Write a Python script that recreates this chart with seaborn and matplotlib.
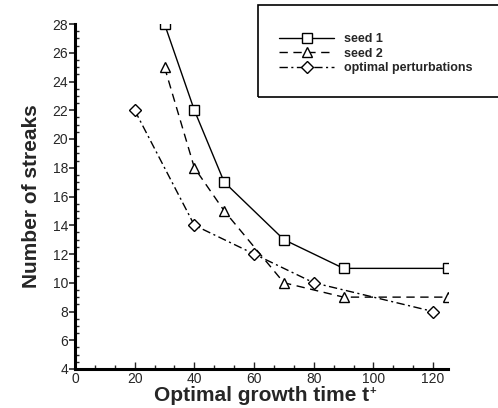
import pandas as pd
import matplotlib.pyplot as plt
import seaborn as sns
from matplotlib.patches import Rectangle
from matplotlib.ticker import MultipleLocator

# data
seed1_t = [30, 40, 50, 70, 90, 125]
seed1_n = [28, 22, 17, 13, 11, 11]
seed2_t = [30, 40, 50, 70, 90, 125]
seed2_n = [25, 18, 15, 10, 9, 9]
opt_t = [20, 40, 60, 80, 120]
opt_n = [22, 14, 12, 10, 8]

sns.set_theme(style='white')
plt.rcParams['font.family'] = ['Liberation Sans', 'DejaVu Sans']

df = pd.concat([
    pd.DataFrame({'t': seed1_t, 'n': seed1_n, 'case': 'seed 1'}),
    pd.DataFrame({'t': seed2_t, 'n': seed2_n, 'case': 'seed 2'}),
    pd.DataFrame({'t': opt_t, 'n': opt_n, 'case': 'optimal perturbations'}),
])

W, H = 498, 408
fig = plt.figure(figsize=(W / 100, H / 100), dpi=100)
ax = fig.add_axes([75 / W, 39 / H, 373 / W, 345 / H])

styles = {
    'seed 1': dict(linestyle='-', marker='s', markersize=7.5),
    'seed 2': dict(linestyle=(0, (6, 4)), marker='^', markersize=7.5),
    'optimal perturbations': dict(linestyle=(0, (6, 2.5, 1.5, 2.5)), marker='D', markersize=6.5),
}
for case, st in styles.items():
    sub = df[df['case'] == case]
    sns.lineplot(data=sub, x='t', y='n', ax=ax, color='black', linewidth=1,
                 markerfacecolor='white', markeredgecolor='black',
                 markeredgewidth=1, label=case, **st)

ax.set_xlim(0, 125)
ax.set_ylim(4, 28)
ax.xaxis.set_major_locator(MultipleLocator(20))
ax.xaxis.set_minor_locator(MultipleLocator(20 / 3))
ax.yaxis.set_major_locator(MultipleLocator(2))
ax.yaxis.set_minor_locator(MultipleLocator(0.5))

for side in ['top', 'right']:
    ax.spines[side].set_visible(False)
for side in ['left', 'bottom']:
    ax.spines[side].set_linewidth(2.2)
    ax.spines[side].set_color('black')

ax.tick_params(axis='x', which='major', direction='in', length=5, width=1,
               labelsize=10, pad=2, bottom=True)
ax.tick_params(axis='x', which='minor', direction='in', length=3, width=1, bottom=True)
ax.tick_params(axis='y', which='major', direction='out', length=4, width=1.2,
               labelsize=10, pad=1, left=True)
ax.tick_params(axis='y', which='minor', direction='in', length=3, width=1, left=True)

ax.set_xlabel('Optimal growth time t', fontsize=15, fontweight='bold', labelpad=0)
ax.annotate('+', xy=(1, 1), xycoords=ax.xaxis.label, xytext=(0.5, -0.5),
            textcoords='offset points', fontsize=8, fontweight='bold',
            ha='left', va='top')
ax.set_ylabel('Number of streaks', fontsize=15, fontweight='bold', labelpad=8)

# legend box drawn in figure pixels, entries placed inside it
fig.patches.append(Rectangle((258 / W, 1 - 97 / H), 245 / W, 92 / H,
                             transform=fig.transFigure, fill=False,
                             edgecolor='black', linewidth=1.2))
leg = ax.legend(loc='upper left', bbox_to_anchor=(268 / W, 1 - 22 / H),
                bbox_transform=fig.transFigure, frameon=False,
                handlelength=4.4, handletextpad=0.8, labelspacing=0.2,
                prop={'weight': 'bold', 'size': 9})

fig.savefig('out.png', dpi=100)
